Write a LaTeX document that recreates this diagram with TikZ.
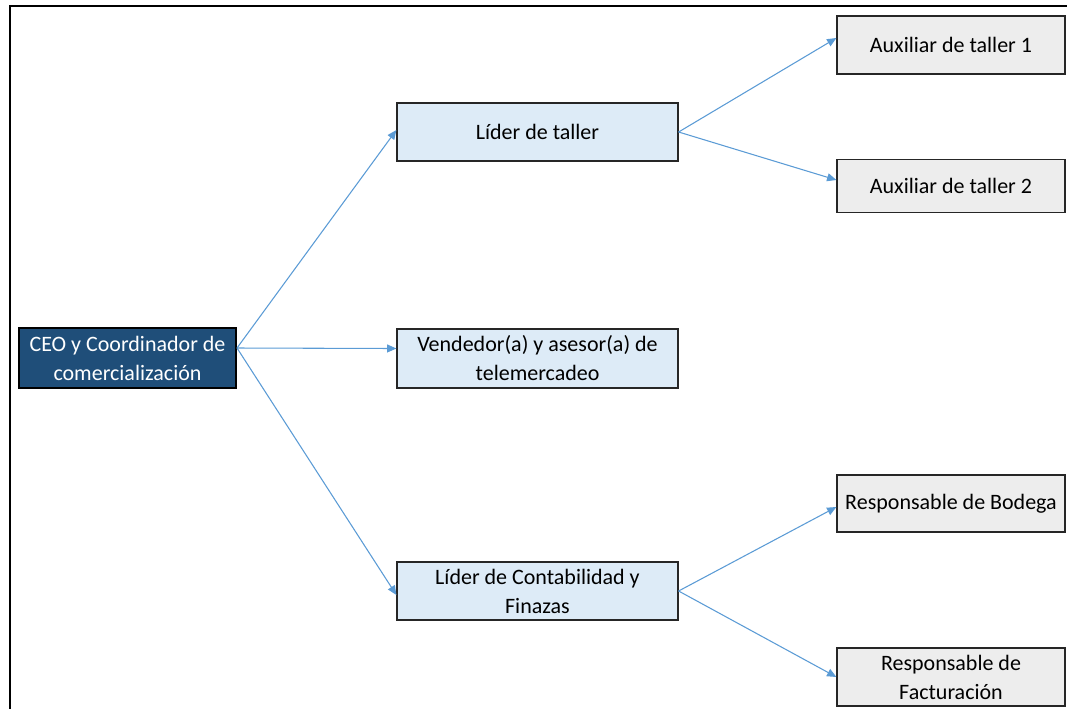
\documentclass[tikz,border=0pt]{standalone}
\usepackage{fontspec}
\setmainfont{Carlito}
\usetikzlibrary{arrows.meta,calc,positioning}
\definecolor{ceoblue}{RGB}{31,78,121}
\definecolor{lightblue}{RGB}{221,235,247}
\definecolor{lightgray}{RGB}{237,237,237}
\definecolor{linkblue}{RGB}{91,155,213}

\begin{document}
\begin{tikzpicture}[x=0.75pt,y=-0.75pt,>={Triangle[length=7pt,width=6pt]},
    font={\fontsize{16.5}{21.75}\selectfont},
    jefe/.style={draw=black,line width=1.5pt,fill=ceoblue,text=white,align=center,minimum width=162.75pt,minimum height=45pt,inner sep=1pt},
    lider/.style={draw=black!85,line width=0.9pt,fill=lightblue,align=center,minimum width=210.75pt,minimum height=43.5pt,inner sep=1pt},
    auxiliar/.style={draw=black!85,line width=0.9pt,fill=lightgray,align=center,minimum width=171pt,minimum height=43.5pt,inner sep=1pt},
    enlace/.style={->,draw=linkblue,line width=0.8pt}]
    \useasboundingbox (0,0) rectangle (1067,708);
    % marco
    \draw[line width=1.9pt,line cap=rect] (10,708) -- (10,6) -- (1067,6);
    % nodos
    \node[jefe] (ceo) at (127.5,358) {CEO y Coordinador de\\comercialización};
    \node[lider] (taller) at (537.5,132) {Líder de taller};
    \node[lider,minimum height=44.25pt] (vende) at (537.5,358.5) {Vendedor(a) y asesor(a) de\\telemercadeo};
    \node[lider] (conta) at (537.5,591) {Líder de Contabilidad y\\Finazas};
    \node[auxiliar] (aux1) at (951,45) {Auxiliar de taller 1};
    \node[auxiliar,minimum height=39.75pt] (aux2) at (951,186) {Auxiliar de taller 2};
    \node[auxiliar,minimum height=42.75pt] (bodega) at (951,503.5) {Responsable de Bodega};
    \node[auxiliar] (factura) at (951,677) {Responsable de\\Facturación};
    % enlaces
    \coordinate (salida) at ($(ceo.east)+(0,-10)$);
    \draw[enlace] (salida) -- ($(taller.west)+(0,-2)$);
    \draw[enlace] (salida) -- ($(vende.west)+(0,-10)$);
    \draw[enlace] (salida) -- ($(conta.west)+(0,4)$);
    \draw[enlace] (taller.east) -- ($(aux1.west)+(0,-7)$);
    \draw[enlace] (taller.east) -- ($(aux2.west)+(0,-6)$);
    \draw[enlace] (conta.east) -- ($(bodega.west)+(0,3.5)$);
    \draw[enlace] (conta.east) -- (factura.west);
\end{tikzpicture}
\end{document}
